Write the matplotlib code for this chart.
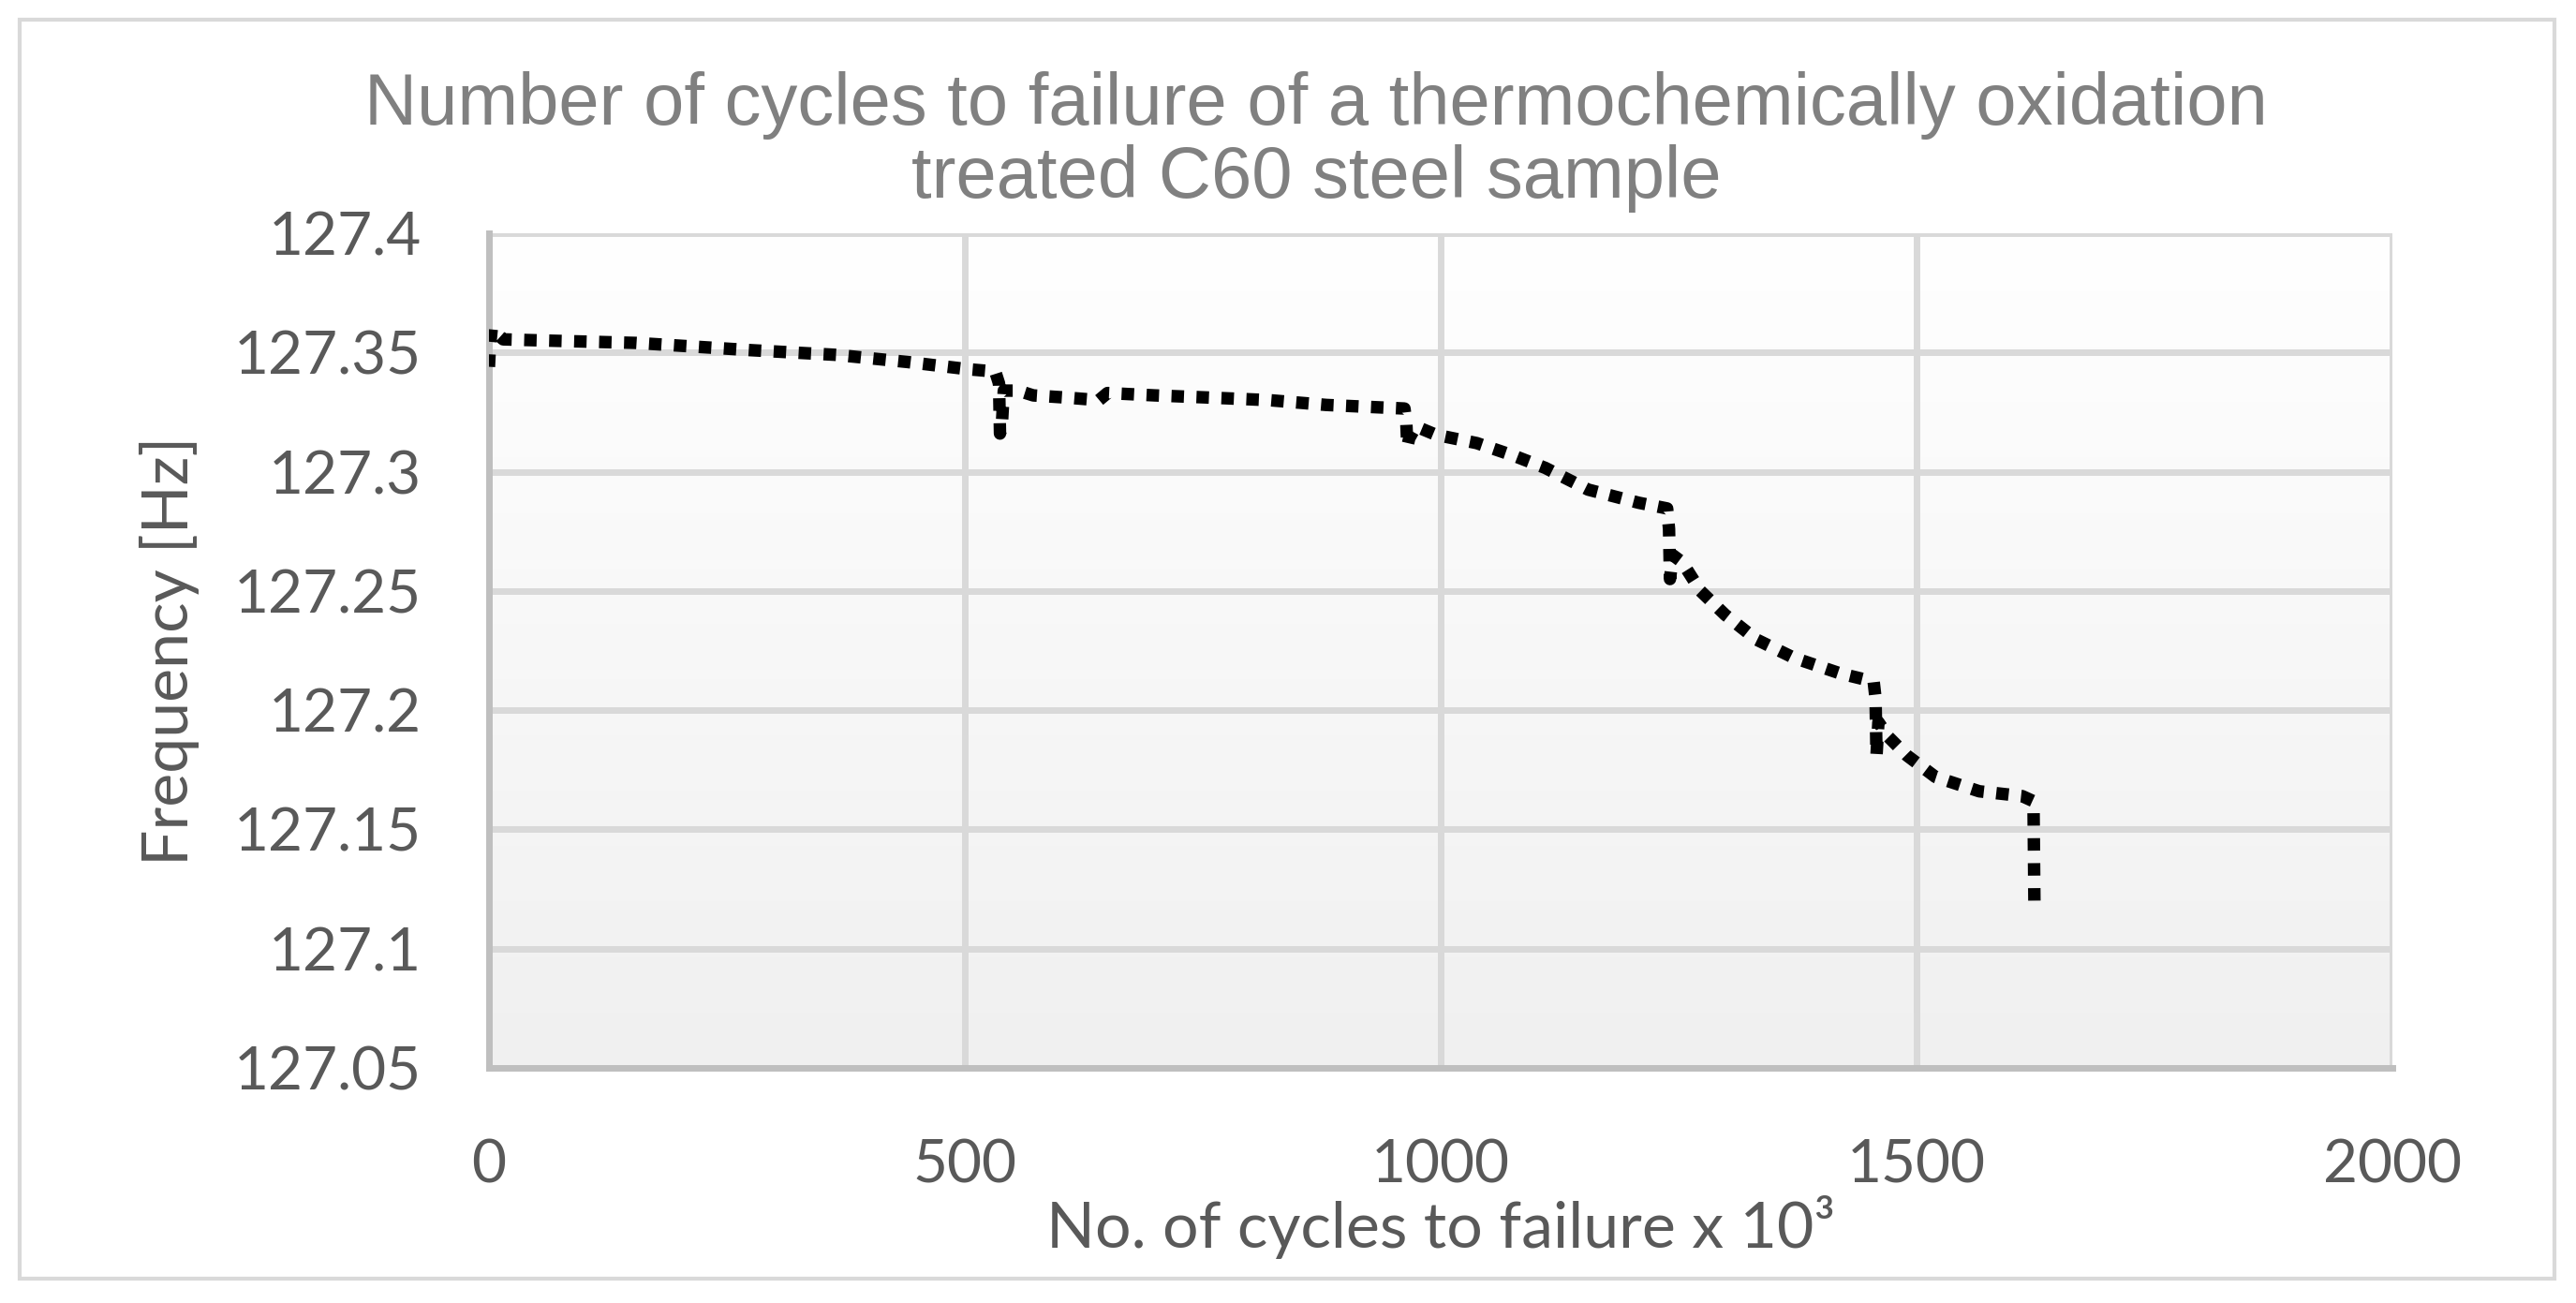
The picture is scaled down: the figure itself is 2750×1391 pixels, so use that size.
import numpy as np
import matplotlib
matplotlib.use('Agg')
import matplotlib.pyplot as plt
from matplotlib.patches import Rectangle

# data (cycles x 10^3, frequency in Hz)
cycles = [0, 1, 3, 8, 15, 60, 155, 274, 365, 440, 503, 532,
          536, 537, 539, 541, 556, 572, 610, 641, 650, 700, 763, 820, 880, 962,
          964, 965, 967, 974, 995, 1038, 1077, 1110, 1155, 1208, 1238,
          1240, 1241, 1244, 1254, 1273, 1299, 1332, 1371, 1420, 1455,
          1457, 1458, 1460, 1470, 1490, 1520, 1566, 1611, 1622,
          1623, 1624]
frequency = [127.344, 127.352, 127.360, 127.358, 127.3555, 127.355, 127.354, 127.351, 127.349, 127.346, 127.343, 127.342,
             127.337, 127.316, 127.320, 127.334, 127.334, 127.332, 127.331, 127.330, 127.333, 127.332, 127.331, 127.330, 127.328, 127.3265,
             127.320, 127.3106, 127.314, 127.319, 127.3155, 127.312, 127.3067, 127.3016, 127.2925, 127.287, 127.2846,
             127.276, 127.255, 127.265, 127.262, 127.250, 127.240, 127.2296, 127.222, 127.2154, 127.212,
             127.205, 127.181, 127.195, 127.189, 127.181, 127.172, 127.166, 127.164, 127.162,
             127.159, 127.116]

x_ticks = [0, 500, 1000, 1500, 2000]
y_ticks = [127.05, 127.1, 127.15, 127.2, 127.25, 127.3, 127.35, 127.4]
y_tick_labels = ['127.05', '127.1', '127.15', '127.2', '127.25', '127.3', '127.35', '127.4']

title = 'Number of cycles to failure of a thermochemically oxidation\ntreated C60 steel sample'
xlabel = 'No. of cycles to failure x 10\u00b3'
ylabel = 'Frequency [Hz]'

fig = plt.figure(figsize=(13.75, 6.955), dpi=200)
ax = fig.add_axes([0.1898, 0.1804, 0.7389, 0.6406])

# plot area gradient (white -> light grey)
grad = np.linspace(0, 1, 256).reshape(-1, 1)
ax.imshow(grad, cmap=matplotlib.colors.LinearSegmentedColormap.from_list('g', ['#ffffff', '#f0f0f0']),
          extent=[0, 1, 0, 1], transform=ax.transAxes, aspect='auto', zorder=0, origin='upper')

ax.plot(cycles, frequency, color='black', lw=4.8, linestyle=(0, (1, 1)),
        dash_capstyle='butt', zorder=3)

ax.set_xlim(0, 2000)
ax.set_ylim(127.05, 127.4)
ax.set_xticks(x_ticks)
ax.set_yticks(y_ticks)
ax.set_yticklabels(y_tick_labels)

ax.grid(True, color='#d9d9d9', lw=2.5, zorder=1)
ax.set_axisbelow(True)
for s in ['top', 'right']:
    ax.spines[s].set_visible(False)
for s in ['left', 'bottom']:
    ax.spines[s].set_color('#bfbfbf')
    ax.spines[s].set_linewidth(2.5)

ax.tick_params(axis='both', length=0, labelsize=23, labelcolor='#595959')
ax.tick_params(axis='y', pad=26)
ax.tick_params(axis='x', pad=27)
for lab in ax.get_xticklabels() + ax.get_yticklabels():
    lab.set_family('Lato')

ax.set_xlabel(xlabel, fontsize=24.5, color='#595959', family='Lato', labelpad=1)
ax.set_ylabel(ylabel, fontsize=24.5, color='#595959', family='Lato', labelpad=13)

fig.text(0.511, 0.891, title, ha='center', va='center', fontsize=28,
         color='#808080', family='Liberation Sans', linespacing=1.1)

# chart border
fig.patches.append(Rectangle((21 / 2750, 1 - 1365 / 1391), (2727 - 21) / 2750, (1365 - 21) / 1391,
                             transform=fig.transFigure, fill=False, edgecolor='#d9d9d9', lw=1.5))

fig.savefig('out.png', dpi=200)
